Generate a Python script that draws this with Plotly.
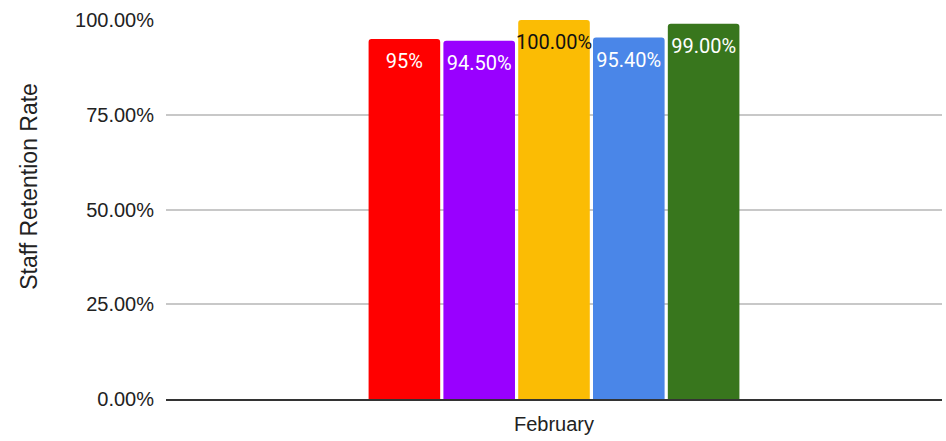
import plotly.graph_objects as go

# Staff retention for February, one bar per group
months = ["February"]
series_names = ["Group A", "Group B", "Group C", "Group D", "Group E"]
retention = [0.95, 0.945, 1.00, 0.954, 0.99]
value_labels = ["95%", "94.50%", "100.00%", "95.40%", "99.00%"]
bar_colors = ["#ff0000", "#9900ff", "#fbbc04", "#4a86e8", "#38761d"]
label_colors = ["#ffffff", "#ffffff", "#111111", "#ffffff", "#ffffff"]
y_ticks = [0, 0.25, 0.5, 0.75, 1.0]
y_tick_labels = ["0.00%", "25.00%", "50.00%", "75.00%", "100.00%"]

GAP = 0.518
label_font = "Roboto, sans-serif"
axis_font = "Liberation Sans, Arial, sans-serif"

fig = go.Figure()
for i, (name, val, col) in enumerate(zip(series_names, retention, bar_colors)):
    fig.add_trace(go.Bar(
        x=months, y=[val], name=name, offsetgroup=str(i),
        marker=dict(color=col, line=dict(width=0)),
        hoverinfo="skip",
    ))

# value labels sit just under the top of each bar
for i, (name, val, lab, tcol) in enumerate(zip(series_names, retention,
                                               value_labels, label_colors)):
    fig.add_trace(go.Scatter(
        x=months, y=[val], name=name, offsetgroup=str(i),
        mode="markers+text", text=[lab], textposition="bottom center",
        marker=dict(size=21, opacity=0),
        textfont=dict(family=label_font, size=20, color=tcol),
        cliponaxis=False, hoverinfo="skip",
    ))

fig.update_layout(
    width=946, height=441,
    margin=dict(l=166, r=4, t=20, b=42),
    paper_bgcolor="white", plot_bgcolor="white",
    barmode="group", bargap=GAP, bargroupgap=0.043,
    scattermode="group", scattergap=GAP,
    barcornerradius=3,
    showlegend=False,
    xaxis=dict(
        showgrid=False, showline=True, linecolor="#333333", linewidth=2,
        tickfont=dict(family=axis_font, size=20, color="#222222"),
        ticks="", ticklen=0, ticklabelstandoff=6,
    ),
    yaxis=dict(
        range=[0, 1.0], tickvals=y_ticks, ticktext=y_tick_labels,
        showgrid=True, gridcolor="#c8c8c8", gridwidth=1.5,
        zeroline=False, showline=False,
        tickfont=dict(family=axis_font, size=20, color="#222222"),
        ticks="", ticklabelstandoff=11,
    ),
    annotations=[dict(
        text="Staff Retention Rate", textangle=-90,
        xref="paper", yref="paper", x=-0.1765, y=0.56,
        xanchor="center", yanchor="middle", showarrow=False,
        font=dict(family=axis_font, size=23, color="#222222"),
    )],
)

fig.write_html("out.html")
